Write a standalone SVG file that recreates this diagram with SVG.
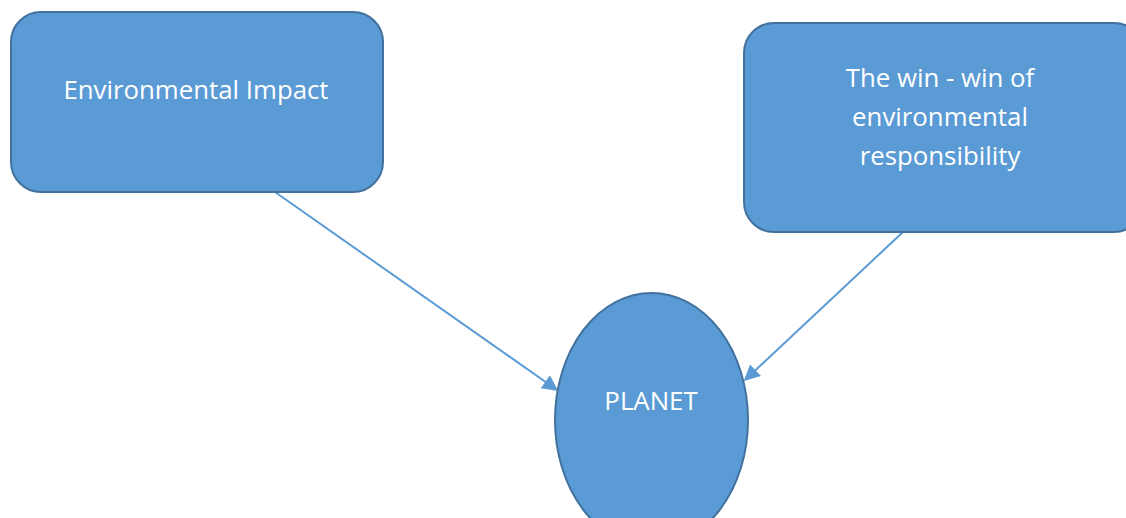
<svg xmlns="http://www.w3.org/2000/svg" width="1126" height="518" viewBox="0 0 1126 518">
  <style>
    .shape { fill: #5b9bd5; stroke: #41719c; stroke-width: 2; }
    .label { fill: #ffffff; font-family: "Open Sans", "Noto Sans", sans-serif; font-size: 25.8px; text-anchor: middle; }
    .link { stroke: #5b9bd5; stroke-width: 2; fill: none; marker-end: url(#arrow); }
  </style>
  <defs>
    <marker id="arrow" viewBox="0 0 10 10" refX="9" refY="5" markerWidth="8" markerHeight="8" orient="auto" markerUnits="strokeWidth">
      <path d="M0,0 L10,5 L0,10 z" fill="#5b9bd5"/>
    </marker>
  </defs>
  <rect width="1126" height="518" fill="#ffffff"/>

  <g id="connectors">
    <line class="link" x1="275" y1="192" x2="557" y2="390"/>
    <line class="link" x1="903" y1="232" x2="745" y2="380"/>
  </g>

  <g id="node-environmental-impact">
    <rect class="shape" x="11" y="12" width="372" height="180" rx="30" ry="30"/>
    <text class="label" x="196" y="99">Environmental Impact</text>
  </g>

  <g id="node-win-win">
    <rect class="shape" x="744" y="23" width="400" height="209" rx="30" ry="30"/>
    <text class="label" x="940" y="87">The win - win of</text>
    <text class="label" x="940" y="126">environmental</text>
    <text class="label" x="940" y="165">responsibility</text>
  </g>

  <g id="node-planet">
    <ellipse class="shape" cx="651.5" cy="420" rx="96.5" ry="127"/>
    <text class="label" x="651" y="410">PLANET</text>
  </g>
</svg>
